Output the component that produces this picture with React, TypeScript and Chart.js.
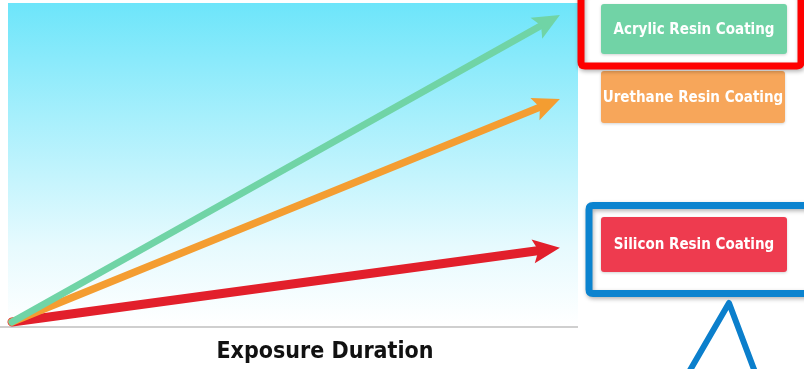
import React, { useEffect, useRef } from "react";
import { Chart, registerables } from "chart.js";

Chart.register(...registerables);

// Exposure duration (start, end) and coating performance at each end
const durations = [0, 10];
const startValue = 0;
const coatings = ["Acrylic Resin Coating", "Urethane Resin Coating", "Silicon Resin Coating"];
const endValues = [95, 69, 23];
const arrowColors = ["#70d4a6", "#f49d31", "#e21f2b"];
const boxColors = ["#71d3a6", "#f7a65a", "#ee3b4f"];
const arrowWidths = [7, 7.5, 9];
const axisTitle = "Exposure Duration";

const LABEL_FONT = "bold 15px 'Liberation Sans Narrow', 'DejaVu Sans Condensed', sans-serif";
const TITLE_FONT = "bold 23px 'Liberation Sans Narrow', 'DejaVu Sans Condensed', sans-serif";

function roundRect(ctx: CanvasRenderingContext2D, x: number, y: number, w: number, h: number, r: number) {
  ctx.beginPath();
  ctx.moveTo(x + r, y);
  ctx.lineTo(x + w - r, y);
  ctx.quadraticCurveTo(x + w, y, x + w, y + r);
  ctx.lineTo(x + w, y + h - r);
  ctx.quadraticCurveTo(x + w, y + h, x + w - r, y + h);
  ctx.lineTo(x + r, y + h);
  ctx.quadraticCurveTo(x, y + h, x, y + h - r);
  ctx.lineTo(x, y + r);
  ctx.quadraticCurveTo(x, y, x + r, y);
  ctx.closePath();
}

function drawArrow(
  ctx: CanvasRenderingContext2D,
  x0: number, y0: number, x1: number, y1: number,
  color: string, width: number
) {
  const ang = Math.atan2(y1 - y0, x1 - x0);
  const dx = Math.cos(ang), dy = Math.sin(ang);
  const px = -dy, py = dx;
  const headLen = 27;
  const headHalf = 12;
  ctx.save();
  ctx.strokeStyle = color;
  ctx.fillStyle = color;
  ctx.lineWidth = width;
  ctx.lineCap = "round";
  ctx.beginPath();
  ctx.moveTo(x0, y0);
  ctx.lineTo(x1 - dx * headLen * 0.7, y1 - dy * headLen * 0.7);
  ctx.stroke();
  ctx.beginPath();
  ctx.moveTo(x1, y1);
  ctx.lineTo(x1 - dx * headLen + px * headHalf, y1 - dy * headLen + py * headHalf);
  ctx.lineTo(x1 - dx * headLen * 0.8, y1 - dy * headLen * 0.8);
  ctx.lineTo(x1 - dx * headLen - px * headHalf, y1 - dy * headLen - py * headHalf);
  ctx.closePath();
  ctx.fill();
  ctx.restore();
}

const backdropPlugin = {
  id: "backdrop",
  beforeDatasetsDraw(chart: Chart) {
    const { ctx, chartArea } = chart;
    const { left, top, right, bottom } = chartArea;
    const g = ctx.createLinearGradient(0, top, 0, bottom);
    g.addColorStop(0, "#6de5fa");
    g.addColorStop(0.35, "#a6effc");
    g.addColorStop(0.75, "#e6fafe");
    g.addColorStop(1, "#ffffff");
    ctx.save();
    ctx.fillStyle = g;
    ctx.fillRect(left, top, right - left, bottom - top);
    ctx.strokeStyle = "#cfcfcf";
    ctx.lineWidth = 2;
    ctx.beginPath();
    ctx.moveTo(0, bottom + 1);
    ctx.lineTo(right, bottom + 1);
    ctx.stroke();
    ctx.restore();
  },
};

const arrowPlugin = {
  id: "arrows",
  afterDatasetsDraw(chart: Chart) {
    const { ctx } = chart;
    // draw the lower arrows first so the steepest sits on top
    for (let i = chart.data.datasets.length - 1; i >= 0; i--) {
      const meta = chart.getDatasetMeta(i);
      const [p0, p1] = meta.data as any[];
      drawArrow(ctx, p0.x, p0.y, p1.x, p1.y, arrowColors[i], arrowWidths[i]);
    }
  },
};

const annotationPlugin = {
  id: "coatingLabels",
  afterDraw(chart: Chart) {
    const { ctx } = chart;
    const boxes = [
      { x: 601, y: 4, w: 186, h: 50 },
      { x: 601, y: 71, w: 184, h: 52 },
      { x: 601, y: 217, w: 186, h: 55 },
    ];
    ctx.save();
    boxes.forEach((b, i) => {
      ctx.save();
      ctx.shadowColor = "rgba(0,0,0,0.18)";
      ctx.shadowBlur = 3;
      ctx.shadowOffsetY = 1;
      ctx.fillStyle = boxColors[i];
      roundRect(ctx, b.x, b.y, b.w, b.h, 3);
      ctx.fill();
      ctx.restore();
      ctx.fillStyle = "#ffffff";
      ctx.font = LABEL_FONT;
      ctx.textAlign = "center";
      ctx.textBaseline = "middle";
      ctx.fillText(coatings[i], b.x + b.w / 2, b.y + b.h / 2 + 1);
    });

    // highlight frames
    ctx.save();
    ctx.shadowColor = "rgba(0,0,0,0.3)";
    ctx.shadowBlur = 4;
    ctx.shadowOffsetX = 1;
    ctx.shadowOffsetY = 2;
    ctx.lineWidth = 7;
    ctx.strokeStyle = "#fe0000";
    roundRect(ctx, 581, -10, 220, 76, 4);
    ctx.stroke();
    ctx.strokeStyle = "#0b83cf";
    roundRect(ctx, 589, 205.5, 222, 88, 4);
    ctx.stroke();
    ctx.restore();

    // callout pointer
    ctx.strokeStyle = "#0b7fcc";
    ctx.lineWidth = 6;
    ctx.lineJoin = "round";
    ctx.beginPath();
    ctx.moveTo(689, 372);
    ctx.lineTo(729, 303);
    ctx.lineTo(755, 372);
    ctx.stroke();

    // axis title
    ctx.fillStyle = "#111111";
    ctx.font = TITLE_FONT;
    ctx.textAlign = "center";
    ctx.textBaseline = "middle";
    ctx.fillText(axisTitle, 325, 352);
    ctx.restore();
  },
};

export default function App() {
  const canvasRef = useRef<HTMLCanvasElement | null>(null);

  useEffect(() => {
    document.body.style.margin = "0";
    const canvas = canvasRef.current;
    if (!canvas) return;
    const chart = new Chart(canvas, {
      type: "scatter",
      data: {
        datasets: coatings.map((name, i) => ({
          label: name,
          data: [
            { x: durations[0], y: startValue },
            { x: durations[1], y: endValues[i] },
          ],
          showLine: false,
          pointRadius: 0,
          borderColor: arrowColors[i],
          backgroundColor: arrowColors[i],
        })),
      },
      options: {
        animation: false,
        responsive: false,
        devicePixelRatio: 1,
        layout: { padding: { left: 8, top: 3, right: 226, bottom: 43 } },
        plugins: {
          legend: { display: false },
          tooltip: { enabled: false },
        },
        scales: {
          x: { type: "linear", display: false, min: -0.073, max: 10.33 },
          y: { type: "linear", display: false, min: -1.24, max: 98.7 },
        },
      },
      plugins: [backdropPlugin, arrowPlugin, annotationPlugin],
    });
    return () => chart.destroy();
  }, []);

  return (
    <div style={{ position: "absolute", left: 0, top: 0, width: 804, height: 369, background: "#ffffff" }}>
      <canvas ref={canvasRef} width={804} height={369} style={{ display: "block" }} />
    </div>
  );
}
